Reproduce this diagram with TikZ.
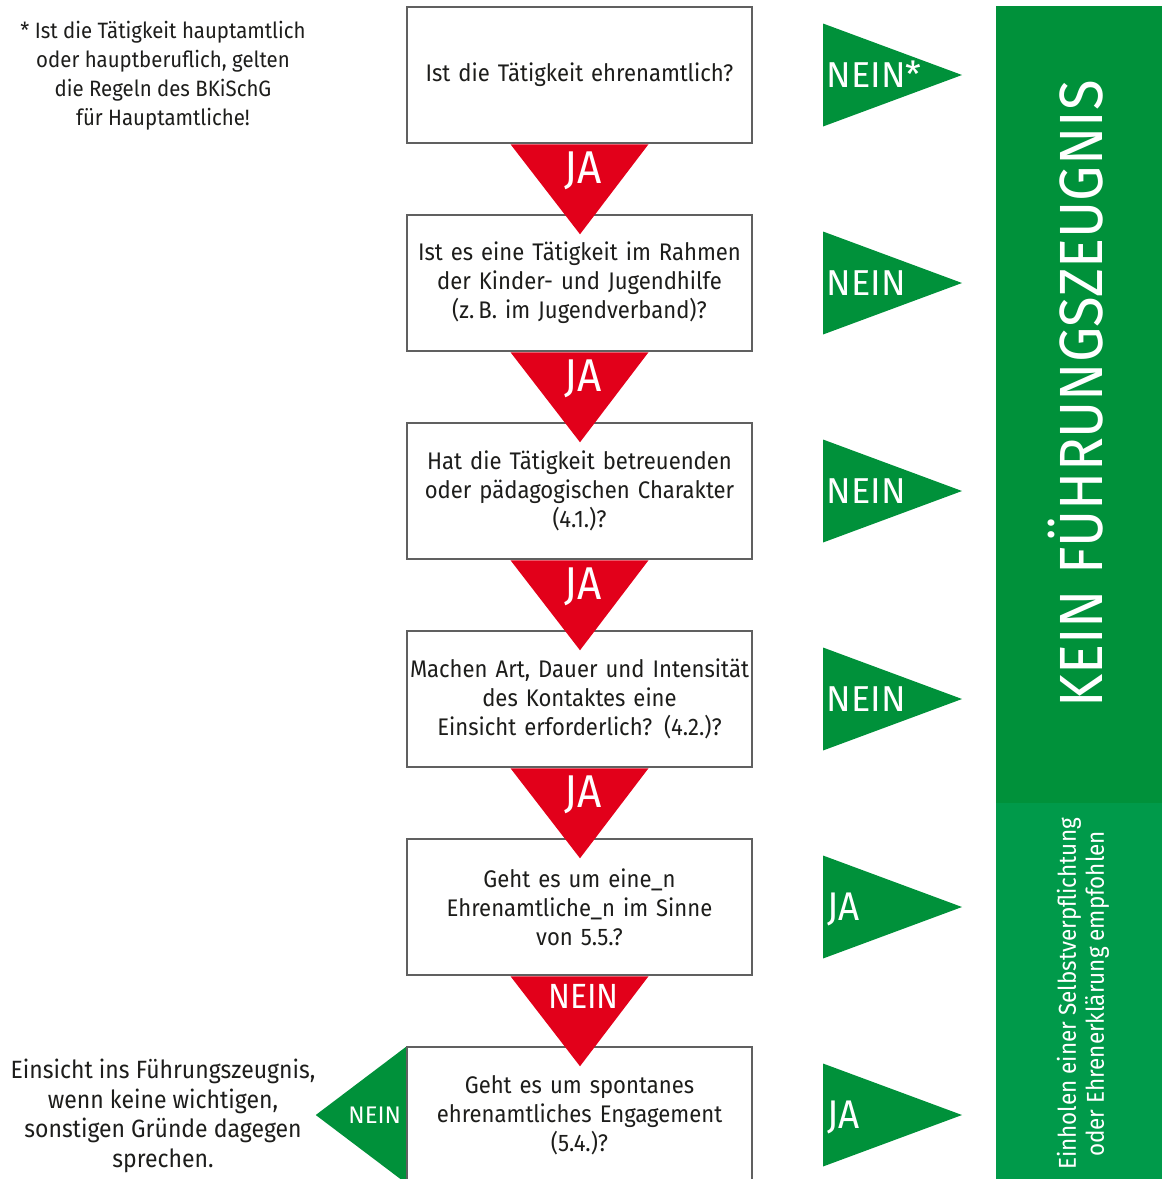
\documentclass[tikz,border=0pt]{standalone}
\usepackage{fontspec}
\setmainfont{Fira Sans}[FakeStretch=0.92]
\newfontfamily\labfont{Fira Sans}
\usetikzlibrary{calc}
\definecolor{gtop}{HTML}{00913A}
\definecolor{gbot}{HTML}{009A4A}
\definecolor{redtri}{HTML}{E2001A}
\definecolor{boxgray}{HTML}{606060}
\definecolor{txt}{HTML}{1D1D1B}
\begin{document}
\begin{tikzpicture}[x=1pt,y=-1pt,
  qbox/.style={draw=boxgray, line width=2.5pt, fill=white, minimum width=345pt,
    minimum height=136pt, inner sep=0pt, text width=340pt, align=center,
    font=\fontsize{24}{29}\selectfont, text=txt},
  plain/.style={align=center, inner sep=0pt, text=txt},
  redlbl/.style={text=white, inner sep=0pt, anchor=base},
  grnlbl/.style={text=white, inner sep=0pt, anchor=base west},
  redtip/.style={fill=redtri},
  grntip/.style={fill=gtop}]
\useasboundingbox (0,0) rectangle (1162,1179);

% green bar
\fill[gtop] (996,6) rectangle (1162,803);
\fill[gbot] (996,803) rectangle (1162,1179);
\node[rotate=90, anchor=base, text=white, inner sep=0pt,
  font=\fontsize{61}{61}\selectfont] (kein) at (1102,394) {KEIN FÜHRUNGSZEUGNIS};
\node[rotate=90, align=center, text=white, inner sep=0pt,
  font=\fontsize{24.4}{28}\selectfont] (einh) at (1083,994)
  {Einholen einer Selbstverpflichtung\\oder Ehrenerklärung empfohlen};

% question boxes
\node[qbox] (b1) at (579.5,75) {Ist die Tätigkeit ehrenamtlich?};
\node[qbox] (b2) at (579.5,283) {Ist es eine Tätigkeit im Rahmen\\der Kinder- und Jugendhilfe\\(z.\,B. im Jugendverband)?};
\node[qbox] (b3) at (579.5,491) {Hat die Tätigkeit betreuenden\\oder pädagogischen Charakter\\(4.1.)?};
\node[qbox] (b4) at (579.5,699) {Machen Art, Dauer und Intensität\\des Kontaktes eine\\Einsicht erforderlich? (4.2.)?};
\node[qbox] (b5) at (579.5,907) {Geht es um eine\_n\\Ehrenamtliche\_n im Sinne\\von 5.5.?};
\node[qbox] (b6) at (579.5,1115) {Geht es um spontanes\\ehrenamtliches Engagement\\(5.4.)?};

% red down triangles between boxes
\foreach \a/\t/\fs/\dy in {b1/JA/46/39, b2/JA/46/39, b3/JA/46/39, b4/JA/46/39, b5/NEIN/35/32}{
  \fill[redtip] ($(\a.south)+(-69,0)$) -- ($(\a.south)+(69,0)$) -- ($(\a.south)+(0.5,90)$) -- cycle;
  \node[redlbl, font=\fontsize{\fs}{\fs}\selectfont] (l\a) at ($(\a.south)+(4,\dy)$) {\t};
}

% green right triangles
\foreach \a/\t/\fs/\dy in {b1/NEIN*/36/12, b2/NEIN/36/12, b3/NEIN/36/12, b4/NEIN/36/12}{
  \fill[grntip] ($(\a.center)+(243.5,-51.5)$) -- ($(\a.center)+(382.5,0)$) -- ($(\a.center)+(243.5,51.5)$) -- cycle;
  \node[grnlbl, font=\labfont\fontsize{\fs}{\fs}\selectfont] (g\a) at ($(\a.center)+(247,\dy)$) {\t};
}
\foreach \a/\t/\fs/\dy in {b5/JA/40/13, b6/JA/40/13}{
  \fill[grntip] ($(\a.center)+(243.5,-51.5)$) -- ($(\a.center)+(382.5,0)$) -- ($(\a.center)+(243.5,51.5)$) -- cycle;
  \node[grnlbl, font=\fontsize{\fs}{\fs}\selectfont] (g\a) at ($(\a.center)+(248,\dy)$) {\t};
}

% left green triangle at last box
\fill[grntip] ($(b6.west)+(0,-68)$) -- ($(b6.west)+(0,68)$) -- ($(b6.west)+(-90,0)$) -- cycle;
\node[text=white, inner sep=0pt, anchor=base, font=\labfont\fontsize{24}{24}\selectfont] (n6) at ($(b6.west)+(-31,8)$) {NEIN};

% side texts
\node[plain, font=\fontsize{22.2}{29}\selectfont] (note) at (163,76) {* Ist die Tätigkeit hauptamtlich\\oder hauptberuflich, gelten\\die Regeln des BKiSchG\\für Hauptamtliche!};
\node[plain, font=\fontsize{25}{29.5}\selectfont] (einsicht) at (163,1116) {Einsicht ins Führungszeugnis,\\wenn keine wichtigen,\\sonstigen Gründe dagegen\\sprechen.};
\end{tikzpicture}
\end{document}
